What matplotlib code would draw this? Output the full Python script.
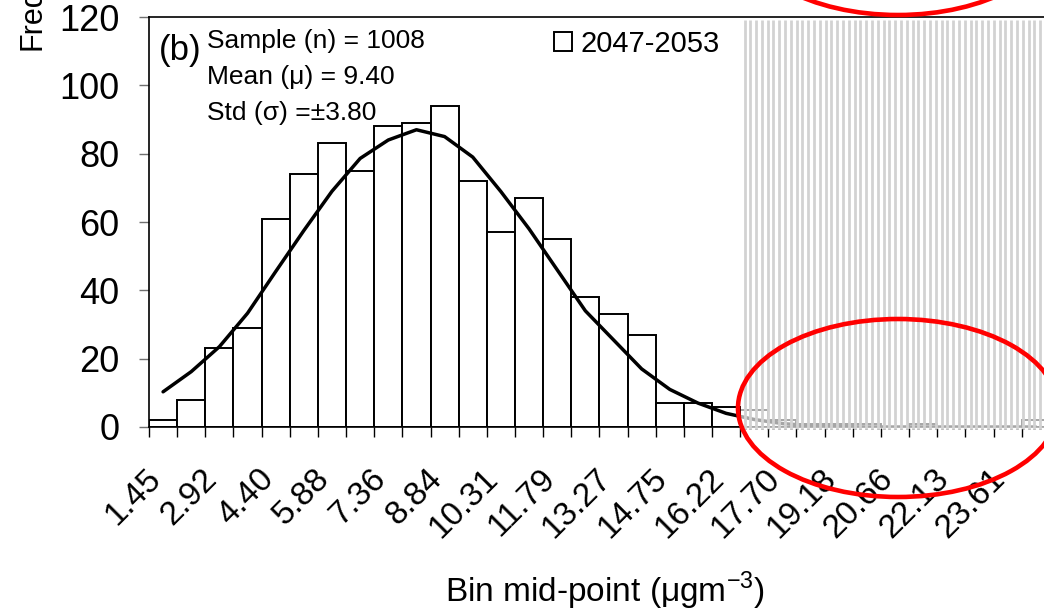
import numpy as np
import matplotlib
matplotlib.use("Agg")
import matplotlib.pyplot as plt
import matplotlib.transforms as mtransforms
from matplotlib.patches import Ellipse, Rectangle
from matplotlib.collections import LineCollection

plt.rcParams['font.family'] = ['Liberation Sans', 'DejaVu Sans']
plt.rcParams['mathtext.fontset'] = 'custom'
plt.rcParams['mathtext.rm'] = 'Liberation Sans'

# frequency per bin (32 bins, bin width ~0.74 ugm-3)
counts = [2, 8, 23, 29, 61, 74, 83, 75, 88, 89, 94, 72, 57, 67, 55, 38,
          33, 27, 7, 7, 6, 5, 2, 1, 1, 1, 0, 1, 0, 0, 0, 2]
# fitted normal curve read at each bin centre
fit = [10.3, 16.2, 23.5, 33.3, 45.5, 57.5, 69.0, 78.6, 84.0, 87.0, 85.0, 79.0,
       68.9, 58.0, 46.0, 34.0, 25.5, 17.0, 11.0, 7.0, 4.0, 2.2, 1.0, 0.4,
       0.1, 0.0, 0.0, 0.0, 0.0, 0.0, 0.0, 0.0]
labels = ["1.45", "2.92", "4.40", "5.88", "7.36", "8.84", "10.31", "11.79",
          "13.27", "14.75", "16.22", "17.70", "19.18", "20.66", "22.13", "23.61"]
legend_label = "2047-2053"
stats = ["Sample (n) = 1008", "Mean (\u03bc) = 9.40", "Std (\u03c3) =\u00b13.80"]

W, H = 1044, 612
fig = plt.figure(figsize=(W / 100, H / 100), dpi=100)


def px(x, y):
    return x / W, 1 - y / H


ax = fig.add_axes([149 / W, 185 / H, 929 / W, 410 / H])

x = np.arange(len(counts))
bars = ax.bar(x, counts, width=1.0, color='white', edgecolor='black',
              linewidth=1.4, zorder=2)
ax.plot(x, fit, color='black', lw=2.5, zorder=3, solid_joinstyle='round',
        solid_capstyle='round')

ax.set_xlim(-0.5, 32.5)
ax.set_ylim(0, 120)
ax.set_yticks(range(0, 121, 20))
ax.tick_params(axis='y', direction='out', length=7.2, width=1.0,
               color='#707070', labelsize=26, pad=14)

edges = np.arange(-0.5, 32.5, 1.0)
ax.set_xticks(edges)
ax.set_xticklabels([''] * len(edges))
ax.tick_params(axis='x', which='major', direction='out', length=7.2,
               width=1.0, color='black')
ax.set_xticks(x[::2][:len(labels)], minor=True)
ax.set_xticklabels(labels, minor=True, rotation=45, rotation_mode='anchor',
                   ha='right', va='top', fontsize=24)
ax.tick_params(axis='x', which='minor', length=0, pad=26)
shift = mtransforms.ScaledTranslation(-0.18, 0, fig.dpi_scale_trans)
for lab in ax.get_xticklabels(minor=True):
    lab.set_transform(lab.get_transform() + shift)

for s in ['left', 'bottom', 'top']:
    ax.spines[s].set_linewidth(1.2)
ax.spines['right'].set_visible(False)

ax.legend([bars], [legend_label], loc='upper left',
          bbox_to_anchor=px(554, 30), bbox_transform=fig.transFigure,
          frameon=False, fontsize=21, handlelength=0.6, handleheight=0.6,
          handletextpad=0.3, borderpad=0, borderaxespad=0)

fig.text(*px(159, 60), "(b)", fontsize=25, va='baseline', ha='left')
for i, s in enumerate(stats):
    fig.text(*px(207, 48 + 36 * i), s, fontsize=19, va='baseline', ha='left')

fig.text(*px(605, 602), 'Bin mid-point (\u03bcgm$^{-3}$)', fontsize=24,
         ha='center', va='baseline')
# the reference is cropped through this label, so only its start shows
fig.text(*px(32, 50), 'Frequency', fontsize=22, rotation=90,
         ha='center', va='bottom')

# greyed-out striped region on the right
x0, y0, y1 = 741, 20, 429
xs = np.arange(744.5, W + 3, 5.8)
segs = [[px(v, y0), px(v, y1)] for v in xs]
fig.add_artist(LineCollection(segs, colors='#818181', linewidths=2.0,
                              transform=fig.transFigure, zorder=5))
fig.add_artist(Rectangle(px(x0, y1), (W + 10 - x0) / W, (y1 - y0) / H,
                         transform=fig.transFigure, facecolor='white',
                         edgecolor='none', alpha=0.65, zorder=6))

# red ellipses
for cy in [408, -74]:
    fig.add_artist(Ellipse(px(898, cy), 320 / W, 178 / H,
                           transform=fig.transFigure, fill=False,
                           edgecolor='#ff0000', lw=3.3, zorder=7))

fig.savefig("out.png", dpi=100)
